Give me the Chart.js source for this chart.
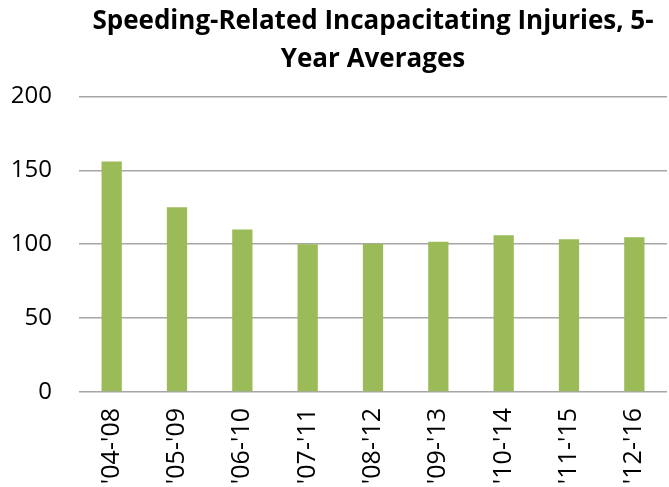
<!DOCTYPE html>
<html>
<head>
<meta charset="utf-8">
<script src="https://cdn.jsdelivr.net/npm/chart.js@4"></script>
<style>
  html, body { margin: 0; padding: 0; background: #fff; }
  #wrap { width: 669px; height: 487px; }
</style>
</head>
<body>
<div id="wrap"><canvas id="myChart" width="669" height="487"></canvas></div>
<script>
const periods = ["'04-'08", "'05-'09", "'06-'10", "'07-'11", "'08-'12", "'09-'13", "'10-'14", "'11-'15", "'12-'16"];
const injuries = [156, 125, 110, 100, 100.3, 101.6, 106, 103.4, 104.7]; // 5-yr averages
const yTicks = [0, 50, 100, 150, 200];

const ctx = document.getElementById('myChart');
const myChart = new Chart(ctx, {
  type: 'bar',
  data: {
    labels: periods,
    datasets: [{
      label: 'Incapacitating injuries',
      data: injuries,
      backgroundColor: '#9bbb59',
      borderWidth: 0,
      categoryPercentage: 1,
      barPercentage: 0.31
    }]
  },
  options: {
    responsive: false,
    animation: false,
    layout: { padding: { left: 0, right: 2, top: 0, bottom: 0 } },
    plugins: {
      legend: { display: false },
      tooltip: { enabled: false },
      title: {
        display: true,
        fullSize: false,
        text: ['Speeding-Related Incapacitating Injuries, 5-', 'Year Averages'],
        color: '#000',
        font: { family: 'Open Sans', size: 26, weight: 'bold', lineHeight: 1.45 },
        padding: { top: 3, bottom: 18 }
      }
    },
    scales: {
      x: {
        grid: { display: false, drawTicks: false },
        border: { display: false },
        ticks: {
          color: '#000',
          font: { family: 'Open Sans', size: 25 },
          minRotation: 90,
          maxRotation: 90,
          padding: 16
        },
        afterFit: s => { s.height = 95; s.paddingLeft = 0; s.paddingRight = 0; }
      },
      y: {
        min: 0,
        max: 200,
        afterBuildTicks: s => { s.ticks = yTicks.map(v => ({ value: v })); },
        grid: { color: '#a6a6a6', lineWidth: 1.5, drawTicks: false },
        border: { display: false },
        ticks: {
          color: '#000',
          font: { family: 'Open Sans', size: 24 },
          padding: 27
        },
        afterFit: s => { s.width = 79; }
      }
    }
  }
});
</script>
</body>
</html>
